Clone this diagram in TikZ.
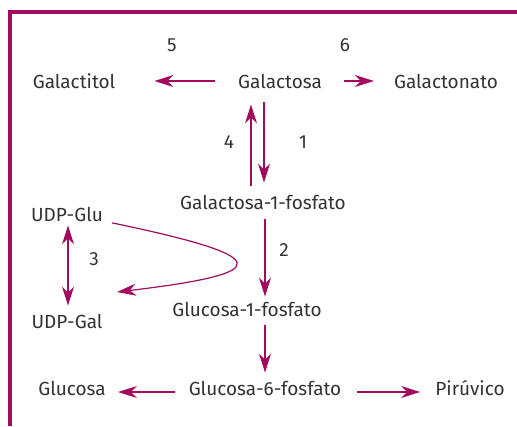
\documentclass[tikz,border=0pt]{standalone}
\usepackage{fontspec}
\setmainfont{Fira Sans}
\usepackage{xcolor}
\usetikzlibrary{positioning,calc,arrows.meta}
\definecolor{CPlum}{HTML}{A30B5F}
\definecolor{CText}{HTML}{333333}

\begin{document}
\begin{tikzpicture}[x=1pt, y=-1pt,
  met/.style={font=\fontsize{19}{22}\selectfont, text=CText, inner sep=0pt},
  num/.style={font=\fontsize{19}{22}\selectfont, text=CText, inner sep=0pt},
  arr/.style={draw=CPlum, line width=1.2pt, -{Stealth[length=19pt, width=12pt, inset=6pt]}},
  dblarr/.style={draw=CPlum, line width=1.2pt, {Stealth[length=19pt, width=12pt, inset=6pt]}-{Stealth[length=19pt, width=12pt, inset=6pt]}},
  frame/.style={draw=CPlum, line width=4pt}]
\useasboundingbox (0,0) rectangle (517,426);
\draw[frame] (517,12) -- (10,12) -- (10,426);
% metabolites
\node[met] (gal)    at (280,81)  {Galactosa};
\node[met] (galtol) at (74,81)   {Galactitol};
\node[met] (galnat) at (446,81)  {Galactonato};
\node[met] (g1p)    at (263,202) {Galactosa-1-fosfato};
\node[met] (udpglu) at (67,214)  {UDP-Glu};
\node[met] (udpgal) at (67,321)  {UDP-Gal};
\node[met] (glc1p)  at (247,309) {Glucosa-1-fosfato};
\node[met] (glc6p)  at (265,388) {Glucosa-6-fosfato};
\node[met] (glc)    at (72,388)  {Glucosa};
\node[met] (pir)    at (470,388) {Pirúvico};
% enzyme numbers
\node[num] (n5) at (172,45)  {5};
\node[num] (n6) at (345,45)  {6};
\node[num] (n4) at (229,142) {4};
\node[num] (n1) at (303,142) {1};
\node[num] (n3) at (94,259)  {3};
\node[num] (n2) at (284,250) {2};
\coordinate (tipgal) at (117,292);
% reactions
\draw[arr, shorten <=23pt, shorten >=39pt] (gal.west) -- (galtol.east);
\draw[arr, shorten <=22pt, shorten >=20pt] (gal.east) -- (galnat.west);
\draw[arr, shorten <=14pt, shorten >=12pt] ([xshift=1pt]g1p.north |- gal.south) -- ([xshift=1pt]g1p.north);
\draw[arr, shorten <=9pt, shorten >=16pt] ([xshift=-12pt]g1p.north) -- ([xshift=-12pt]g1p.north |- gal.south);
\draw[arr, shorten <=10pt, shorten >=5pt] ([xshift=2pt]g1p.south) -- ([xshift=18pt]glc1p.north);
\draw[arr, shorten <=9pt, shorten >=8pt] ([xshift=18pt]glc1p.south) -- (glc6p.north);
\draw[arr, shorten <=14pt, shorten >=12pt] ([yshift=-4pt]glc6p.west) -- ([yshift=-4pt]glc.east);
\draw[arr, shorten <=16pt, shorten >=15pt] ([yshift=-4pt]glc6p.east) -- ([yshift=-4pt]pir.west);
\draw[dblarr, shorten <=4pt, shorten >=8pt] ([xshift=1pt]udpglu.south) -- ([xshift=1pt]udpgal.north);
\draw[arr, shorten <=9pt] ([yshift=-7pt]udpglu.east) .. controls (276,257) and (276,273) .. (tipgal);
\end{tikzpicture}
\end{document}
